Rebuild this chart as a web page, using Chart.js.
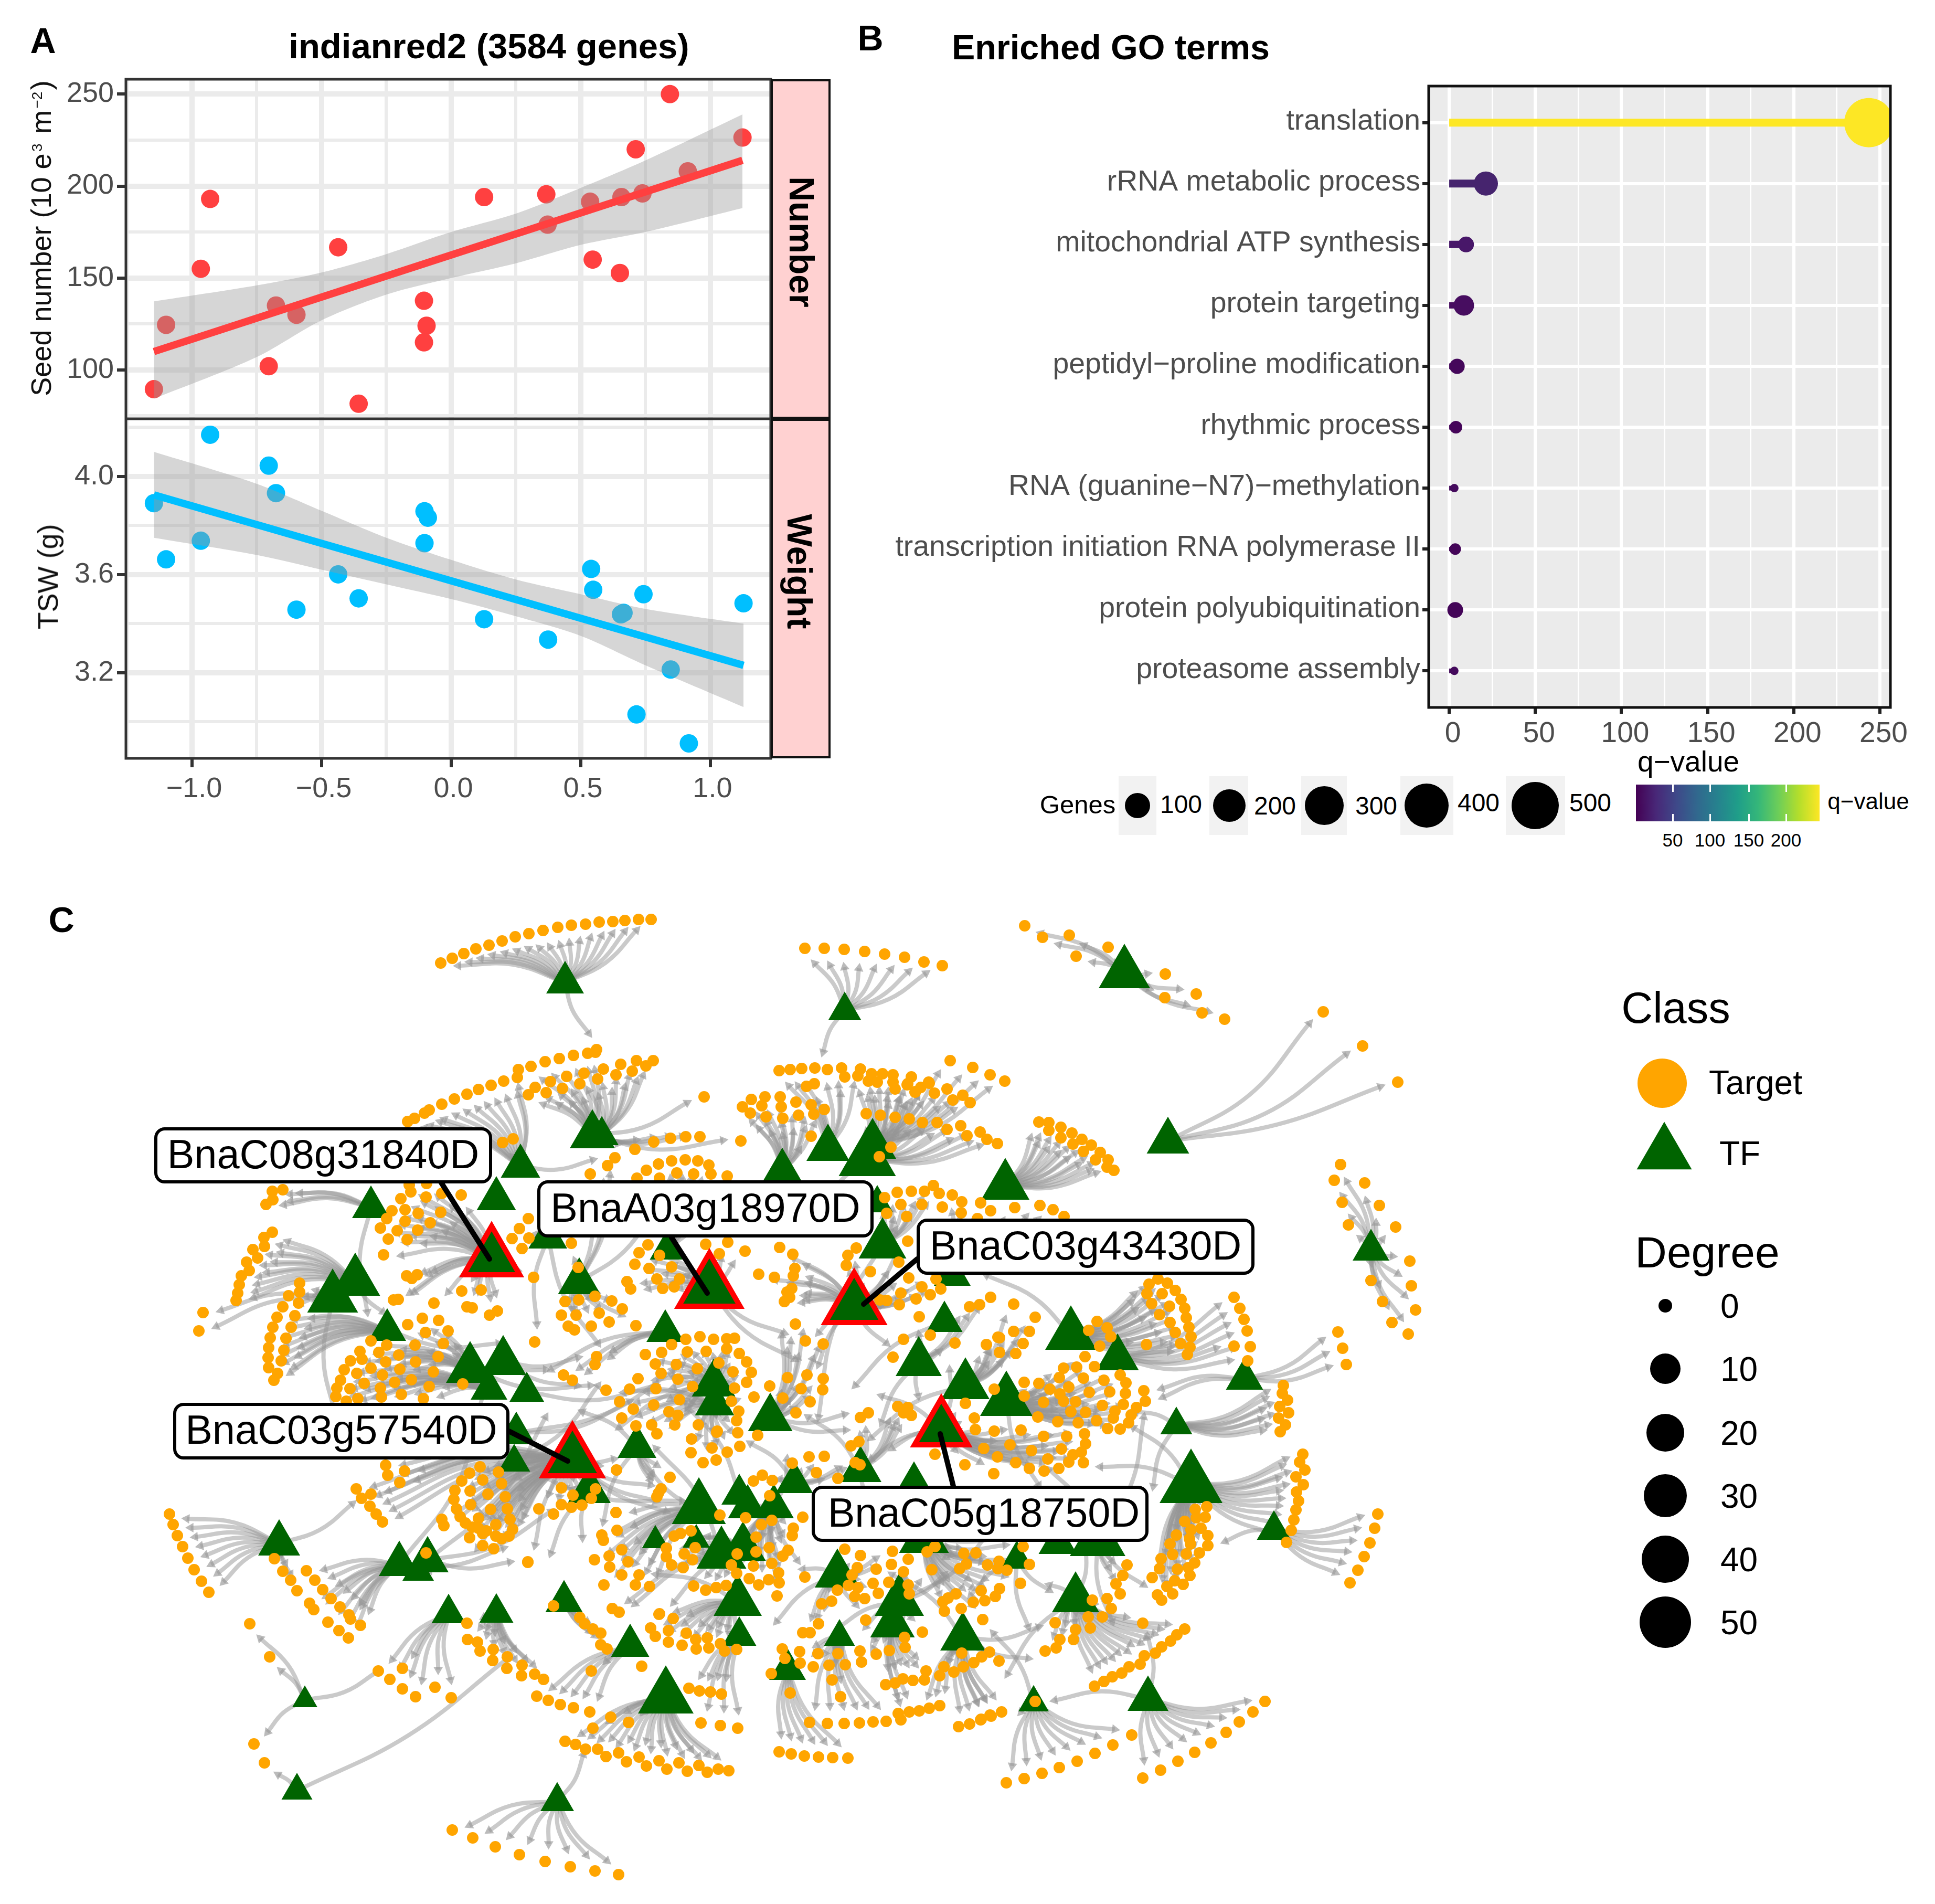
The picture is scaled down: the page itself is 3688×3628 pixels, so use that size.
<!DOCTYPE html>
<html><head><meta charset="utf-8"><title>indianred2 module</title>
<script src="https://cdn.jsdelivr.net/npm/chart.js@4"></script>
<style>
html,body{margin:0;padding:0;background:#fff}
#page{position:relative;width:3688px;height:3628px;overflow:hidden;background:#fff;font-family:"Liberation Sans",Arial,sans-serif}
#page canvas{position:absolute}
.t{position:absolute;white-space:nowrap;line-height:1;transform-origin:center}
.box{position:absolute;box-sizing:border-box}
sup{font-size:52%;line-height:0;vertical-align:baseline;position:relative;top:-.6em;margin:0 .12em}
</style></head><body><div id="page"></div>
<script>
// ---------- Panel A data
const regX=[-1.147,-1.10,-0.966,-0.93,-0.704,-0.676,-0.597,-0.436,-0.357,-0.105,-0.095,-0.105,0.127,0.367,0.372,0.536,0.546,0.651,0.657,0.712,0.738,0.844,0.913,1.124];
const seedNumber=[89.5,124.5,155,193,102,135,130,166.7,81.6,137.6,124,115,194,195.5,179,191.5,160,152.7,194,220,196,250,208,226.4];
const tswX=[-1.147,-1.10,-0.966,-0.93,-0.704,-0.676,-0.597,-0.436,-0.357,-0.103,-0.09,-0.103,0.127,0.374,0.54,0.548,0.655,0.665,0.742,0.847,0.715,0.917,1.128];
const tswValue=[3.891,3.662,3.738,4.170,4.044,3.932,3.457,3.601,3.503,3.858,3.832,3.728,3.418,3.335,3.623,3.538,3.438,3.444,3.52,3.213,3.03,2.912,3.483];
const ribbonX=[-1.147,-0.75,-0.5,-0.25,0,0.25,0.5,0.75,1.124];
const seedUpper=[137.3,146,153,163,175,185,199,214,239];
const seedLower=[84.3,107,127,141,150,158,168,175,188];
const tswUpper=[4.10,3.97,3.86,3.75,3.66,3.58,3.52,3.46,3.40];
const tswLower=[3.75,3.68,3.62,3.56,3.50,3.43,3.35,3.23,3.06];
const seedFitX=[-1.147,1.124], seedFit=[110,214];
const tswFitX=[-1.147,1.128], tswFit=[3.925,3.23];
const xTicksA=[-1.25,-1,-0.75,-0.5,-0.25,0,0.25,0.5,0.75,1,1.25];
const seedTicks=[75,100,125,150,175,200,225,250];
const tswTicks=[3.0,3.2,3.4,3.6,3.8,4.0,4.2];
// ---------- Panel B data
const goTerms=["translation","rRNA metabolic process","mitochondrial ATP synthesis","protein targeting","peptidyl\u2212proline modification","rhythmic process","RNA (guanine\u2212N7)\u2212methylation","transcription initiation RNA polymerase II","protein polyubiquitination","proteasome assembly"];
const goValue=[243.6,21.3,9.8,8.5,4.6,3.9,3.0,3.5,3.5,3.0];
const goGenes=[500,135,60,100,50,35,15,30,55,15];
const goDotRadius=[47,23,15,19.5,14.5,12,8,11,15,8];
const goBarWidth=[15,15,14,12,11,9,9,8,8,9];
const goColor=["#FDE725","#46246E","#481769","#470D60","#45085B","#450559","#440A5C","#440558","#440558","#440A5C"];
const goTicks=[0,25,50,75,100,125,150,175,200,225,250];
// ---------- Panel C: TF nodes (x, base of triangle y, base width)
const tfX=[1077,1129,1147,992,946,707,937,1044,1104,677,634,738,896,959,932,1004,984,980,1091,1123,1214,1268,1272,1352,1360,1362,1468,1491,1578,1663,1653,1682,1672,1628,1916,2226,1610,2143,2613,1815,1800,2041,2130,1751,1840,1918,1794,1640,1742,1514,1409,1425,1475,1416,1375,1406,1409,1596,1714,1701,1600,1835,2050,1501,1970,1938,2016,2092,2372,2242,2270,2428,2188,532,761,815,797,855,946,1075,1201,1269,581,566,1062,1249,1327,1332,1761];
const tfBaseY=[1893,2188,2182,2244,2306,2321,2434,2379,2466,2469,2501,2555,2635,2620,2667,2671,2752,2804,2817,2864,2778,2557,2400,2494,2661,2697,2727,2249,2212,2208,2241,2398,2310,2525,2286,2198,1944,1883,2402,2450,2538,2572,2611,2622,2666,2698,2758,2824,2845,2845,2867,2893,2893,2974,2989,3079,3136,3025,3079,3120,3136,3145,3072,3201,3261,2989,2961,2965,2648,2733,2864,2934,3260,2964,3003,2996,3012,3093,3092,3072,3157,3265,3253,3429,3451,2950,2949,2904,2959];
const tfWidth=[72,86,64,75,75,72,124,74,81,95,97,72,92,88,70,66,72,61,128,82,74,72,67,134,83,75,85,72,82,90,109,91,60,127,92,81,63,98,70,70,69,98,81,88,92,100,119,80,70,71,68,75,76,87,95,92,65,86,94,85,59,86,90,70,58,62,73,106,71,61,120,65,78,80,78,80,60,65,65,71,73,106,48,59,64,51,52,103,95];
const redTF=[6,18,23,33,46];
// ---------- Panel C: targets of each TF (x,y pairs)
const fan0=[840,1835,862,1826,884,1817,907,1808,932,1801,957,1793,982,1785,1008,1779,1035,1773,1063,1767,1089,1763,1116,1761,1142,1757,1168,1756,1191,1754,1217,1752,1241,1752,1137,2000];
const fan36=[1534,1807,1571,1807,1609,1809,1648,1813,1686,1818,1724,1824,1761,1833,1796,1840,1553,2035];
const fan37=[1953,1764,1987,1786,2038,1782,2051,1822,2112,1805,2221,1856,2220,1901,2280,1894,2291,1930,2334,1942];
const fan35=[2522,1928,2597,1993,2664,2062];
const fan38=[2555,2219,2543,2249,2601,2254,2558,2291,2629,2297,2570,2334,2660,2338,2687,2403,2613,2440,2690,2450,2635,2480,2698,2496,2653,2520,2684,2542];
const fan71=[2626,2885,2620,2912,2611,2940,2600,2966,2588,2992,2573,3016,2302,2945];
const fan70=[2483,2771,2477,2786,2487,2801,2470,2814,2484,2829,2471,2843,2475,2860,2470,2877,2466,2896,2461,2916,2452,2939,2278,2876,2300,2871,2280,2892,2297,2891,2258,2899,2270,2915,2289,2912,2302,2926,2242,2925,2267,2932,2230,2942,2269,2942,2261,2961,2286,2959,2235,2962,2213,2970,2277,2978,2210,2989,2265,2987,2244,2990,2196,3006,2268,3002,2239,3012,2255,3019,2224,3023,2206,3039,2235,3037,2214,3049];
const fan69=[2446,2640,2444,2655,2454,2668,2439,2680,2456,2692,2437,2702,2450,2715,2440,2728];
const fan68=[2550,2538,2559,2569,2566,2600,2180,2650,2183,2670];
const fan41=[2207,2437,2225,2445,2190,2447,2240,2459,2186,2465,2215,2465,2251,2476,2195,2484,2229,2489,2258,2493,2210,2505,2261,2511,2230,2520,2266,2529,2240,2539,2270,2547,2250,2560,2268,2567,2263,2581,2185,2562,2075,2535,2091,2518,2110,2530,2117,2547,2096,2565];
const fan42=[2352,2472,2363,2493,2371,2514,2377,2536,2383,2566,2352,2565,2378,2593];
const fan44=[1932,2485,1973,2510,1932,2537,1962,2537,1950,2560,1936,2579,1905,2549,1905,2577,1880,2562,1902,2548,1895,2647];
const fan43=[1820,2559,1773,2544,1722,2552,1702,2586,1752,2509,1848,2490,1867,2486,1888,2472];
const fan45=[2068,2585,2027,2607,2052,2605,2086,2604,2019,2625,2065,2626,2104,2630,2135,2620,1952,2634,1980,2636,2001,2647,2037,2643,2146,2635,2076,2653,2115,2652,2145,2655,1952,2660,2020,2656,2027,2670,2050,2671,1989,2672,2101,2678,2141,2676,2041,2690,2069,2691,2166,2682,2125,2689,1978,2700,2016,2709,2055,2711,2090,2707,2122,2702,2156,2696,2151,2711,2111,2722,2135,2723];
const fan46=[1946,2725,1989,2737,2033,2737,2067,2732,1925,2753,2069,2751,1966,2764,2023,2761,2061,2767,2045,2772,1997,2780,1936,2787,2037,2786,2065,2787,1962,2798,1990,2803,2018,2798,1840,2674,1857,2702,1859,2724,1895,2727,1875,2760,1901,2776,1782,2771,1839,2791,1894,2808];
const fan31=[1686,2282,1710,2272,1737,2270,1762,2270,1779,2259,1790,2274,1717,2295,1757,2295,1690,2312,1728,2318];
const fan39=[1815,2277,1833,2290,1869,2292,1888,2307,1934,2301,1982,2297,2007,2305,2028,2318,1796,2300,1832,2311,1863,2322];
const fan33=[1616,2392,1632,2378,1659,2423,1613,2411,1713,2405,1730,2365,1757,2452,1732,2435,1717,2464,1746,2475,1773,2467,1714,2486,1690,2478,1677,2477,1793,2456,1784,2437,1486,2377,1511,2390,1446,2428,1476,2434,1515,2417,1512,2431,1500,2462,1509,2455,1495,2480,1505,2472];
const fan23=[1235,2372,1218,2387,1210,2409,1237,2417,1257,2392,1252,2437,1195,2442,1202,2456,1263,2455,1280,2414,1295,2437,1285,2452,1345,2371,1387,2367,1371,2389,1420,2384];
const fan22=[1255,2218,1280,2212,1306,2210,1330,2212,1351,2220,1232,2230,1290,2235,1322,2237,1355,2237,1386,2241,1257,2245,1214,2245];
const fan1=[1246,2176,1278,2169,1307,2166,1334,2166,1412,2174,1342,2090,1210,2190,1012,2032,1039,2023,1066,2017,1093,2011,1120,2007,1135,2005,1007,2086,1041,2082,1072,2074,1105,2065,1020,2072,1049,2061,1080,2051];
const fan2=[1183,2028,1213,2021,1245,2021,1231,2031,1205,2041,1150,2037,1113,2045,1139,2056,1174,2048];
const fan3=[777,2137,790,2131,809,2121,818,2115,842,2104,866,2094,890,2085,912,2076,936,2068,960,2060,986,2053,988,2038,958,2177,978,2170];
const fan27=[1432,2095,1458,2090,1487,2090,1415,2109,1452,2107,1489,2109,1517,2100,1546,2105,1430,2121,1460,2128,1492,2131,1522,2125,1551,2123,1571,2114,1546,2165];
const fan28=[1485,2040,1506,2038,1528,2036,1577,2038,1604,2035,1537,2070,1552,2065,1610,2052,1640,2037];
const fan30=[1635,2050,1655,2060,1661,2046,1672,2062,1682,2046,1702,2048,1702,2062,1706,2075,1730,2065,1737,2052,1745,2080,1755,2072,1770,2062,1651,2122,1678,2125,1706,2129,1733,2132,1758,2139,1698,2186,1676,2204,1786,2139,1805,2152,1831,2145,1843,2164,1868,2157,1881,2171,1901,2179];
const fan29=[1811,2021,1854,2034,1887,2048,1915,2060,1805,2075,1816,2096,1835,2087,1849,2101,1781,2083,1771,2064,1729,2067,1744,2081];
const fan34=[1980,2138,1999,2139,1999,2154,2022,2148,2022,2168,2043,2159,2045,2180,2062,2171,2080,2182,2065,2194,2088,2210,2097,2196,2112,2210,2110,2224,2123,2230];
const fan8=[1089,2369,1102,2415,1077,2480,1103,2477,1134,2470,1166,2479,1186,2494,1070,2506,1098,2506,1142,2502,1083,2527,1095,2534,1127,2527,1161,2519,1212,2526,1172,2206,1158,2221,1125,2237];
const fan6=[747,2307,772,2305,737,2322,772,2327,725,2340,757,2345,796,2344,820,2330,840,2310,797,2312,740,2361,776,2362,731,2391,780,2258,813,2255,764,2284,783,2271,812,2281,842,2274,879,2277,775,2431,795,2429,785,2436,750,2477,759,2476,827,2483,880,2460,917,2458,890,2490,900,2492,933,2506,948,2498,1017,2434];
const fan7=[976,2360,995,2379,990,2341,1007,2322,1008,2359,1019,2557];
const fan5=[539,2267,519,2270,520,2286,507,2295];
const fan9=[519,2348,503,2358,504,2375,482,2381,491,2397,470,2405,475,2421,460,2431,456,2448,453,2464,450,2478];
const fan10=[387,2501,379,2536,571,2445,571,2462,550,2469,569,2483,539,2490];
const fan11=[562,2507,528,2510,555,2529,520,2529,545,2550,515,2549,541,2573,512,2568,536,2593,511,2587,512,2606,529,2617,522,2630];
const fan12=[777,2524,805,2512,836,2516,811,2539,854,2536,791,2563,845,2560,686,2575,722,2577,760,2582,737,2563,707,2555,690,2590,735,2595,792,2595,835,2585,668,2593,707,2607,762,2609];
const fan14=[656,2610,680,2617,729,2620,826,2614,649,2630,694,2636,752,2634,784,2629,642,2645,667,2646,725,2645,818,2642,765,2657,640,2661,682,2665,727,2662,807,2665,660,2670,882,2637];
const fan18=[895,2807,915,2795,950,2805,880,2822,920,2820,956,2827,867,2840,896,2841,930,2847,963,2852,865,2857,897,2867,967,2875,935,2876,870,2875,912,2893,972,2895,877,2890,945,2905,887,2902,900,2910,912,2912,920,2922,927,2917,977,2914,895,2930,945,2927,970,2927,956,2932,920,2945,941,2951,842,2895,846,2907,679,2837,707,2847,689,2855,705,2870,717,2885,729,2900,735,2792,739,2811,771,2803,762,2825,1027,2875,1055,2885,1070,2835,1092,2849,1135,2837,1127,2855,1070,2867,1089,2872,1109,2868,1175,2801,1006,2976];
const fan87=[1174,2882,1176,2916,1147,2925,1150,2935,1185,2953,1161,2965,1197,2976,1133,2972,1162,2986,1185,3001,1218,3001,1151,3020,1211,3020,1238,3023];
const fan20=[1260,2837,1255,2845,1252,2852,1277,2815];
const fan21=[1137,2585,1134,2600,1074,2620,1091,2630];
const fan24=[1289,2600,1329,2608,1249,2599,1230,2581,1261,2577,1307,2552,1280,2562,1334,2547,1310,2576,1360,2552,1346,2575,1385,2551,1400,2550,1385,2570,1409,2579,1423,2595,1432,2615,1370,2597,1397,2614,1423,2634,1400,2645,1394,2670,1216,2627,1250,2646,1246,2677,1260,2617,1292,2628,1320,2642,1295,2667,1275,2690,1292,2697,1286,2715];
const fan25=[1155,2649,1200,2647,1181,2671,1207,2685,1185,2702,1212,2717,1242,2715,1252,2732,1331,2715,1367,2727,1318,2742,1357,2759,1317,2768,1340,2787,1365,2782,1366,2729,1386,2767,1408,2689,1404,2707,1406,2730,1410,2756,1437,2662];
const fan26=[1516,2523,1535,2555,1569,2561,1467,2641,1501,2625,1538,2620,1569,2627,1568,2648,1527,2646,1492,2664,1544,2671,1517,2692,1444,2735];
const fan47=[1711,2680,1730,2682,1722,2692,1737,2697,1640,2701,1655,2692,1622,2755,1637,2747];
const fan49=[1542,2776,1571,2775,1556,2806,1510,2788,1597,2817,1630,2787,1639,2791,1436,2822,1453,2811,1472,2821,1467,2850];
const fan52=[1372,2887,1421,2892,1451,2905,1471,2897,1530,2891,1512,2912,1510,2926,1441,2929,1466,2949,1502,2954,1441,2957,1492,2965,1405,2961,1394,2982,1436,2984,1471,2979,1404,2998,1484,2997,1428,3008,1465,3010,1485,3016,1446,3020,1365,3025,1384,3021,1481,3041,1534,3005];
const fan53=[1285,2927,1270,2950,1270,2966,1280,2982,1302,2987,1304,2961,1325,2949,1320,2972,1297,2922,1317,2917,1322,3022,1345,3030,1257,3075,1167,3065,1180,3072];
const fan55=[1240,3102,1249,3118,1274,3107,1274,3129,1300,3135,1308,3112,1326,3124,1327,3142,1348,3121,1351,3140,1373,3132,1381,3146,1404,3143,1256,3076,1283,3084];
const fan56=[1336,3283,1373,3288,1406,3293,1313,3217,1333,3222,1354,3224,1375,3228];
const fan57=[1610,2952,1640,2964,1701,2956,1670,2990,1699,2981,1634,2987,1624,3001,1664,3017,1617,3021,1635,3025,1674,3036,1596,3030,1585,3051,1566,3056,1629,3042,1648,3046,1650,3087,1560,3094,1530,3111,1544,3111];
const fan58=[1731,2971,1722,2995,1776,2991,1694,3015,1731,3020,1733,3037,1758,3110,1724,3120,1725,3139];
const fan88=[1767,2957,1782,2947,1829,2989,1842,2980,1860,2959,1837,2960,1882,2982,1904,2975,1902,2989,1919,2992,1962,2981,1945,3017,1950,2947,1870,3031,1905,3027,1897,3042,1877,3050,1855,3053,1822,3037,1807,3045,1797,3052,1800,3070,1832,3065,1873,3086];
const fan62=[2082,3049,2110,3046,2118,3065,2074,3081,2101,3081,2011,3092,2050,3105,2078,3102,2020,3124,2046,3124,1992,3146,2013,3140,2178,3093,2258,3104,2243,3115,2231,3127,2214,3138,2202,3150,2181,3155,2173,3171,2152,3176,2138,3188,2120,3195,2104,3204,2086,3213];
const fan67=[2148,2982,2140,3002,2127,3018,2135,3037];
const fan61=[1833,3150,1886,3148,1871,3157,1856,3168,1836,3176,1818,3186,1799,3176,1791,3193,1904,3165,1827,3290,1848,3285,1869,3277,1889,3270,1909,3262,1791,3250,1771,3255,1752,3260,1887,3268,1870,3276];
const fan59=[1765,3184,1762,3201,1740,3202,1721,3199,1706,3207,1688,3210,1695,3145,1670,3152,1639,3146,1642,3167,1733,3262,1712,3265,1717,3277];
const fan60=[1597,3151,1559,3151,1524,3147,1525,3169,1550,3176,1580,3173,1611,3172,1586,3201,1602,3233,1543,3282,1577,3284,1609,3284,1638,3283,1664,3281,1689,3280];
const fan63=[1491,3142,1496,3160,1470,3189,1506,3226,1485,3338,1508,3342,1533,3346,1560,3348,1587,3349,1616,3350];
const fan64=[2157,3306,2121,3325,2087,3341,2053,3356,2019,3368,1986,3379,1952,3389,1918,3397,1973,3242];
const fan72=[2411,3242,2388,3262,2362,3281,2337,3301,2308,3321,2277,3339,2245,3356,2212,3373,2178,3388];
const fan84=[862,3487,901,3502,944,3519,990,3534,1039,3547,1087,3557,1134,3565,1179,3572];
const fan81=[1077,3318,1097,3324,1116,3333,1139,3333,1155,3347,1179,3340,1194,3357,1218,3348,1232,3365,1256,3355,1271,3371,1294,3359,1310,3375,1332,3364,1348,3377,1369,3371,1389,3374,1130,3293,1164,3272,1198,3282];
const fan80=[1023,3232,1045,3240,1068,3248,1093,3254,1124,3262,1127,3184,1223,3175];
const fan79=[1105,3082,1114,3094,1130,3104,1145,3112,1145,3134,1157,3142,1055,3060];
const fan78=[890,3093,891,3124,910,3129,915,3146,940,3143,939,3164,967,3157,966,3179,995,3173,994,3193,1019,3190,1036,3200];
const fan77=[721,3184,743,3200,767,3218,792,3233,829,3215,860,3235,767,3179];
const fan82=[476,3094,514,3157,484,3323];
const fan83=[504,3359];
const fan73=[323,2885,330,2905,338,2926,348,2947,358,2969,370,2991,384,3013,398,3034,523,2970,539,2994,554,3011,566,3031];
const fan74=[584,2993,600,3011,615,3029,631,3046,648,3062,665,3077,687,3097,668,3085,590,3055,598,3067,625,3091,646,3107,664,3121];
const fan75=[812,2959,1006,2977];
const fans=[[0,fan0],[36,fan36],[37,fan37],[35,fan35],[38,fan38],[71,fan71],[70,fan70],[69,fan69],[68,fan68],[41,fan41],[42,fan42],[44,fan44],[43,fan43],[45,fan45],[46,fan46],[31,fan31],[39,fan39],[33,fan33],[23,fan23],[22,fan22],[1,fan1],[2,fan2],[3,fan3],[27,fan27],[28,fan28],[30,fan30],[29,fan29],[34,fan34],[8,fan8],[6,fan6],[7,fan7],[5,fan5],[9,fan9],[10,fan10],[11,fan11],[12,fan12],[14,fan14],[18,fan18],[87,fan87],[20,fan20],[21,fan21],[24,fan24],[25,fan25],[26,fan26],[47,fan47],[49,fan49],[52,fan52],[53,fan53],[55,fan55],[56,fan56],[57,fan57],[58,fan58],[88,fan88],[62,fan62],[67,fan67],[61,fan61],[59,fan59],[60,fan60],[63,fan63],[64,fan64],[72,fan72],[84,fan84],[81,fan81],[80,fan80],[79,fan79],[78,fan78],[77,fan77],[82,fan82],[83,fan83],[73,fan73],[74,fan74],[75,fan75]];
// long TF links whose far end is an arrow tip only: TF index, tip x, tip y
const linkTF=[83,84,82,73,69,70,70,69,72,64,72,23,23,33,33,33,40,26,26,26,43,46,13,13,16,17,18,74,75,9,10,11,5,3,54,55,50,58,61,45,44,41,19,20,13,12,15,16,19,18,18,18,18,20,20,21,26,26,26,47,47,46,46,46,43,49,57,57,52,58,58,58,61,61,88,88,65,65,65,66,67,67,67,67,62,62,62,31,24,25,30,8,7,17,74,75];
const linkX=[965,1112,721,672,2198,2097,2160,2165,2188,1893,2010,1495,1515,1560,1690,1560,1630,1490,1610,1612,1750,1660,1102,1100,1300,1140,910,920,1040,730,640,950,700,1130,1250,1250,1310,1900,1960,1980,1660,1880,1050,1330,1040,1125,1250,1200,1110,1250,1270,1240,1170,1150,1110,1050,1530,1500,1560,1660,1540,1680,1810,1700,1680,1430,1530,1480,1500,1800,1650,1600,1700,1980,1650,1980,2000,1960,1850,2000,2000,2180,2120,2180,1920,2000,2070,1560,1180,1280,1560,1250,1140,1300,960,1050];
const linkY=[3162,3343,3184,2865,2832,2795,2720,2690,3118,3112,3240,2540,2590,2540,2560,2600,2640,2545,2695,2725,2660,2780,2587,2640,2600,2640,2950,2660,2700,2500,2700,2560,2500,2210,2760,3000,2680,2900,3160,2830,2740,2430,2960,2880,2610,2640,2640,2670,2930,2860,2880,2830,2780,2900,2690,2610,2540,2575,2570,2860,2700,2660,2610,2760,2710,2750,2990,3090,2780,3000,3100,3100,3000,3100,2920,2900,3030,3100,3040,2860,2800,2700,3090,3020,3190,3020,2950,2700,2720,2620,2320,2300,2560,2860,2950,2880];
// ---------- Panel C legend and call-outs
const degreeValues=[0,10,20,30,40,50];
const degreeRadius=[13,29,36,41,45,49];
const calloutNames=["BnaC08g31840D","BnaA03g18970D","BnaC03g43430D","BnaC03g57540D","BnaC05g18750D"];
const calloutLineX=[[840,933],[1280,1348],[1748,1646],[970,1082],[1817,1792]];
const calloutLineY=[[2252,2399],[2358,2464],[2399,2485],[2727,2784],[2832,2732]];
const calloutBox=[[294,2148,644,107],[1024,2249,641,109],[1747,2322,644,107],[330,2673,641,108],[1547,2831,642,107]];
const geneSizes=[100,200,300,400,500];
const geneRadius=[24,31,37,42,45];
const qTicks=[50,100,150,200];

// ---------- helpers
const page=document.getElementById('page');
const FONT='"Liberation Sans",Arial,sans-serif';
Chart.defaults.font.family=FONT;
function text(html,x,y,size,o={}){const d=document.createElement('div');d.className='t';d.innerHTML=html;
 d.style.cssText+=`left:${x}px;top:${y}px;font-size:${size}px;color:${o.color||'#000'};font-weight:${o.bold?'bold':'normal'};transform:translate(${o.anchor==='left'?'0':'-50%'},-50%) rotate(${o.rot||0}deg);`;
 if(o.z)d.style.zIndex=o.z;page.appendChild(d);return d;}
function box(x,y,w,h,css){const d=document.createElement('div');d.className='box';d.style.cssText+=`left:${x}px;top:${y}px;width:${w}px;height:${h}px;${css}`;page.appendChild(d);return d;}
function canvas(x,y,w,h){const c=document.createElement('canvas');c.width=w;c.height=h;c.style.cssText=`left:${x}px;top:${y}px;width:${w}px;height:${h}px`;page.appendChild(c);return c;}
const frame={id:'frame',afterDraw(ch,_,o){if(!o.width)return;const a=ch.chartArea,c=ch.ctx;c.save();c.strokeStyle=o.color;c.lineWidth=o.width;c.strokeRect(a.left,a.top,a.right-a.left,a.bottom-a.top);c.restore();}};
Chart.register(frame);
const zip=(xs,ys)=>xs.map((x,i)=>({x,y:ys[i]}));
const near=(a,b)=>Math.abs(a-b)<1e-6;
const base={responsive:false,animation:false,devicePixelRatio:1,events:[]};
const noPad=s=>{s.paddingTop=0;s.paddingBottom=0;s.paddingLeft=0;s.paddingRight=0;};

// ---------- Panel A
function facet(cfg){
 const isMajorY=v=>cfg.majors.some(m=>near(m,v));
 const isMajorX=v=>near(v*2,Math.round(v*2))&&Math.abs(v)<1.1;
 new Chart(canvas(0,cfg.top,1640,cfg.h),{type:'scatter',data:{datasets:[
  {data:zip(cfg.px,cfg.py),backgroundColor:cfg.color,borderWidth:0,pointRadius:17.5,order:3,clip:false},
  {data:zip(ribbonX.map((v,i)=>i==8?cfg.endX:v),cfg.up),showLine:true,fill:'+1',backgroundColor:'rgba(153,153,153,0.4)',borderWidth:0,pointRadius:0,order:2,tension:0.3},
  {data:zip(ribbonX.map((v,i)=>i==8?cfg.endX:v),cfg.lo),showLine:true,borderWidth:0,pointRadius:0,order:2,tension:0.3},
  {data:zip(cfg.fx,cfg.fy),showLine:true,borderColor:cfg.color,borderWidth:14,pointRadius:0,order:1,borderCapStyle:'butt'}
 ]},options:{...base,layout:{autoPadding:false,padding:{top:cfg.padTop,right:1640-1469,left:0,bottom:0}},
  plugins:{legend:{display:false},tooltip:{enabled:false},frame:{color:'#333',width:5}},
  scales:{
   x:{type:'linear',min:-1.255,max:1.233,afterBuildTicks:s=>{s.ticks=xTicksA.map(value=>({value}))},afterFit:s=>{s.height=cfg.axisH;noPad(s)},
      border:{display:false},
      grid:{color:'#ebebeb',lineWidth:c=>isMajorX(c.tick.value)?10:6,tickLength:cfg.showX?17:0,tickWidth:6,tickColor:c=>isMajorX(c.tick.value)&&cfg.showX?'#333':'rgba(0,0,0,0)',drawOnChartArea:true},
      ticks:{display:cfg.showX,autoSkip:false,maxRotation:0,padding:10,labelOffset:4,color:'#4d4d4d',font:{size:54},callback:v=>isMajorX(v)?(v<0?'\u2212':'')+Math.abs(v).toFixed(1):''}},
   y:{type:'linear',min:cfg.yMin,max:cfg.yMax,afterBuildTicks:s=>{s.ticks=cfg.ticks.map(value=>({value}))},afterFit:s=>{s.width=240;noPad(s)},
      border:{display:false},
      grid:{color:'#ebebeb',lineWidth:c=>isMajorY(c.tick.value)?10:6,tickLength:17,tickWidth:6,tickColor:c=>isMajorY(c.tick.value)?'#333':'rgba(0,0,0,0)'},
      ticks:{autoSkip:false,padding:6,color:'#4d4d4d',font:{size:54},callback:v=>isMajorY(v)?cfg.fmt(v):''}}
  }}});
}
facet({top:0,h:798,padTop:151,axisH:0,showX:false,px:regX,py:seedNumber,color:'#FF4040',up:seedUpper,lo:seedLower,endX:1.124,fx:seedFitX,fy:seedFit,yMin:73.4,yMax:258.1,ticks:seedTicks,majors:[100,150,200,250],fmt:v=>String(v)});
facet({top:798,h:780,padTop:0,axisH:133,showX:true,px:tswX,py:tswValue,color:'#00BFFF',up:tswUpper,lo:tswLower,endX:1.128,fx:tswFitX,fy:tswFit,yMin:2.851,yMax:4.235,ticks:tswTicks,majors:[3.2,3.6,4.0],fmt:v=>v.toFixed(1)});
box(1469,151,114,647,'background:rgb(255,209,209);border:4px solid #111');
box(1469,798,114,647,'background:rgb(255,209,209);border:4px solid #111');
text('Number',1528,461,66,{bold:true,rot:90});
text('Weight',1524,1089,66,{bold:true,rot:90});
text('A',82,77,68,{bold:true});
text('indianred2 (3584 genes)',932,87,67,{bold:true});
text('Seed number (10 e<sup>3</sup> m<sup>\u22122</sup>)',78,454,54,{rot:-90,color:'#111'});
text('TSW (g)',91,1099,54,{rot:-90,color:'#111'});

// ---------- Panel B
const isMajorGo=v=>v%50===0;
new Chart(canvas(1640,0,2048,1470),{type:'scatter',data:{datasets:goTerms.map((t,i)=>({
   label:t,data:[{x:0,y:i},{x:goValue[i],y:i}],showLine:true,borderColor:goColor[i],backgroundColor:goColor[i],borderWidth:goBarWidth[i],
   pointRadius:[0,goDotRadius[i]],pointBorderWidth:0,borderCapStyle:'butt'}))},
 options:{...base,layout:{autoPadding:false,padding:{top:164,right:3688-3603,left:0,bottom:0}},
  plugins:{legend:{display:false},tooltip:{enabled:false},frame:{color:'#111',width:5}},
  scales:{
   x:{type:'linear',min:-11.9,max:256.1,afterBuildTicks:s=>{s.ticks=goTicks.map(value=>({value}))},afterFit:s=>{s.height=1470-1348;noPad(s)},border:{display:false},
      grid:{color:'#fff',lineWidth:c=>isMajorGo(c.tick.value)?6:3,tickLength:12,tickWidth:6,tickColor:c=>isMajorGo(c.tick.value)?'#222':'rgba(0,0,0,0)'},
      ticks:{autoSkip:false,maxRotation:0,padding:6,labelOffset:7,color:'#4d4d4d',font:{size:55},callback:v=>isMajorGo(v)?String(v):''}},
   y:{type:'linear',reverse:true,min:-0.6,max:9.6,afterBuildTicks:s=>{s.ticks=goTerms.map((_,value)=>({value}))},afterFit:s=>{s.width=2723-1640;noPad(s)},border:{display:false},
      grid:{color:'#fff',lineWidth:6,tickLength:12,tickWidth:6,tickColor:'#222'},
      ticks:{autoSkip:false,padding:4,labelOffset:-2,color:'#4d4d4d',font:{size:55.4},callback:v=>goTerms[v]}}
  }},
 plugins:[{id:'panelBg',beforeDraw(ch){const a=ch.chartArea,c=ch.ctx;c.save();c.fillStyle='#ebebeb';c.fillRect(a.left,a.top,a.right-a.left,a.bottom-a.top);c.restore();}}]});
text('B',1659,72,68,{bold:true});
text('Enriched GO terms',2117,90,66.5,{bold:true});
text('q\u2212value',3218,1451,55);
text('Genes',2054,1533,49);
const geneBox=[[2132,72],[2305,74],[2480,87],[2669,101],[2870,113]];
const geneCx=[2168,2343,2524,2719,2926], geneLabelX=[2251,2430,2623,2818,3031], geneLabelY=[1533,1536,1536,1530,1530];
geneSizes.forEach((g,i)=>{box(geneBox[i][0],1479,geneBox[i][1],112,'background:#f2f2f2');
 box(geneCx[i]-geneRadius[i],1535-geneRadius[i],2*geneRadius[i],2*geneRadius[i],'background:#000;border-radius:50%');
 text(String(g),geneLabelX[i],geneLabelY[i],48);});
box(3118,1495,350,70,'background:linear-gradient(90deg,#440154,#482878,#3e4989,#31688e,#26828e,#1f9e89,#35b779,#6ece58,#b5de2b,#fde725)');
const qTickX=[3188,3259,3333,3404];
qTicks.forEach((q,i)=>{box(qTickX[i]-1.5,1495,3,14,'background:#fff');box(qTickX[i]-1.5,1551,3,14,'background:#fff');text(String(q),qTickX[i],1600,35);});
text('q\u2212value',3561,1527,44);

// ---------- Panel C
const T=1650,H=3628-1650;
const tfR=i=>(redTF.includes(i)?tfWidth[i]-17:tfWidth[i])/Math.sqrt(3);
const tfCY=i=>(redTF.includes(i)?tfBaseY[i]-5:tfBaseY[i])-tfR(i)/2;
const edgeSets=[],tips=[],rots=[],targets=[];
function addEdge(i,tx,ty,gap){
 const hx=tfX[i],hy=tfCY(i);let dx=tx-hx,dy=ty-hy;const L0=Math.hypot(dx,dy)||1;
 const ex=tx-dx/L0*gap,ey=ty-dy/L0*gap;dx=ex-hx;dy=ey-hy;
 const bow=L0>450?0.05:0.09;
 const mx=(hx+ex)/2-dy*bow,my=(hy+ey)/2+dx*bow;
 edgeSets.push({data:[{x:hx,y:hy},{x:mx,y:my},{x:ex,y:ey}],showLine:true,tension:0.4,borderColor:'rgba(150,150,150,0.5)',borderWidth:8,pointRadius:0,order:10});
 tips.push({x:ex,y:ey});rots.push(Math.atan2(ex-mx,-(ey-my))*180/Math.PI);
}
fans.forEach(([i,list])=>{for(let k=0;k<list.length;k+=2){addEdge(i,list[k],list[k+1],34);targets.push({x:list[k],y:list[k+1]});}});
linkTF.forEach((i,k)=>addEdge(i,linkX[k],linkY[k],0));
const plainIdx=tfX.map((_,i)=>i).filter(i=>!redTF.includes(i));
const calloutSets=calloutNames.map((n,i)=>({label:n,data:zip(calloutLineX[i],calloutLineY[i]),showLine:true,borderColor:'#000',borderWidth:10,pointRadius:0,borderCapStyle:'round',order:5}));
new Chart(canvas(0,T,3688,H),{type:'scatter',data:{datasets:[
 ...edgeSets,
 {label:'arrows',data:tips,pointStyle:'triangle',pointRadius:10.5,pointRotation:rots,backgroundColor:'rgba(150,150,150,0.65)',pointBorderWidth:0,order:9},
 {label:'TF',data:plainIdx.map(i=>({x:tfX[i],y:tfCY(i)})),pointStyle:'triangle',pointRadius:plainIdx.map(tfR),backgroundColor:'#006400',pointBorderWidth:0,order:8},
 {label:'Target',data:targets,pointRadius:11,backgroundColor:'#FFA500',pointBorderWidth:0,order:7},
 {label:'hub TF',data:redTF.map(i=>({x:tfX[i],y:tfCY(i)})),pointStyle:'triangle',pointRadius:redTF.map(tfR),backgroundColor:'#006400',borderColor:'#FF0000',pointBorderColor:'#FF0000',pointBorderWidth:10,order:6},
 ...calloutSets,
 {label:'legendTarget',data:[{x:3168,y:2064}],pointRadius:47,backgroundColor:'#FFA500',pointBorderWidth:0,order:4},
 {label:'legendTF',data:[{x:3172,y:2198}],pointStyle:'triangle',pointRadius:60.6,backgroundColor:'#006400',pointBorderWidth:0,order:4},
 {label:'legendDegree',data:degreeValues.map((d,i)=>({x:3174,y:[2488,2608,2730,2850,2971,3091][i]})),pointRadius:degreeRadius,backgroundColor:'#000',pointBorderWidth:0,order:4}
]},options:{...base,layout:{autoPadding:false,padding:0},parsing:false,normalized:true,
 plugins:{legend:{display:false},tooltip:{enabled:false},frame:{width:0}},
 scales:{x:{type:'linear',display:false,min:0,max:3688},y:{type:'linear',display:false,reverse:true,min:T,max:3628}}}});
text('C',117,1752,68,{bold:true});
calloutNames.forEach((n,i)=>{const b=calloutBox[i];
 box(b[0],b[1],b[2],b[3],'background:#fff;border:6px solid #000;border-radius:20px');
 text(n,b[0]+b[2]/2+(i==4?7:0),b[1]+b[3]/2-2,77.5);});
text('Class',3194,1920,83);
text('Target',3346,2063,64);
text('TF',3316,2198,64);
text('Degree',3254,2386,84);
degreeValues.forEach((d,i)=>text(String(d),3279,[2488,2608,2730,2850,2971,3091][i]+1,64,{anchor:'left'}));
</script></body></html>
